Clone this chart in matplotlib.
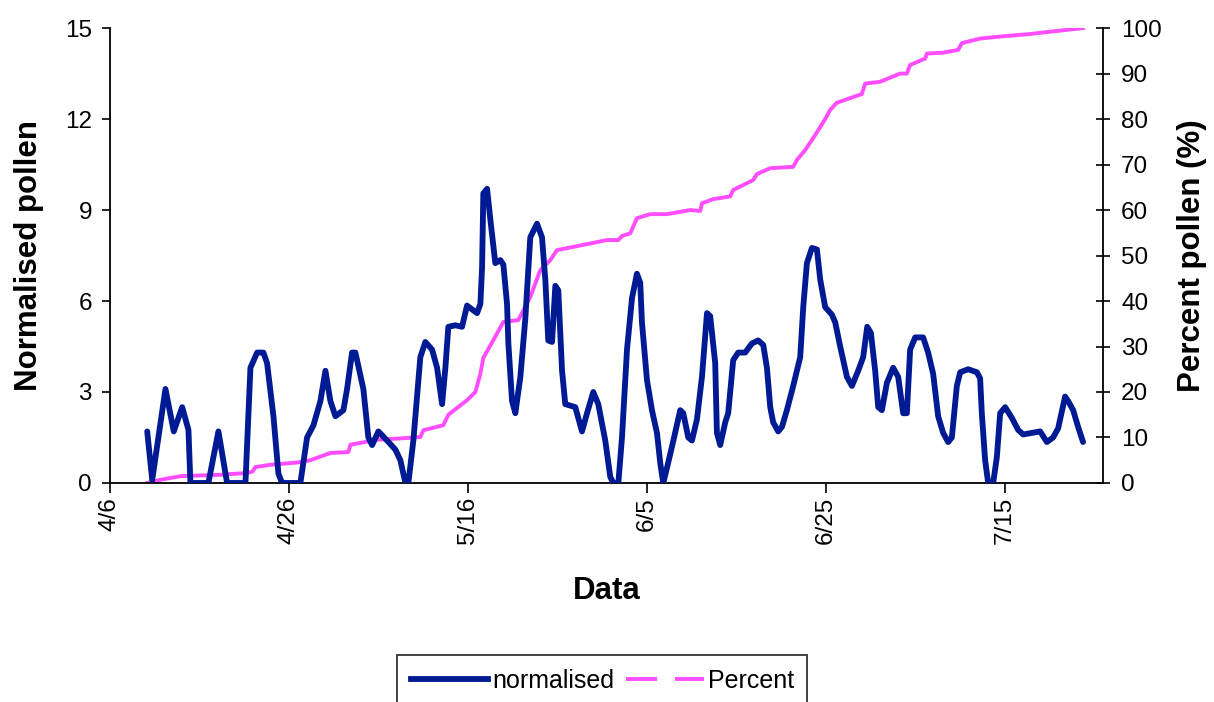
import matplotlib
matplotlib.use("Agg")
import matplotlib.pyplot as plt
import matplotlib.dates as mdates
from matplotlib.lines import Line2D
import pandas as pd

plt.rcParams['font.family'] = ['Liberation Sans', 'DejaVu Sans']

start = pd.Timestamp('2008-04-06')

# normalised pollen, days after 4/6
norm_days = [4.16, 4.72, 6.20, 7.13, 8.07, 8.77, 8.99, 11.0, 12.12, 13.09, 15.14, 15.70,
             16.45, 17.15, 17.56, 18.27, 18.83, 19.24, 21.28, 22.03, 22.74, 23.52, 24.08,
             24.64, 25.2, 26.09, 26.5, 27.06, 27.43, 28.32, 28.88, 29.3, 30.0, 30.97, 31.9,
             32.46, 33.02, 33.35, 33.91, 34.69, 35.25, 36.0, 36.56, 37.12, 37.49, 37.82,
             38.6, 39.35, 39.91, 41.03, 41.4, 41.59, 41.73, 42.15, 42.51, 43.07, 43.63,
             43.97, 44.38, 44.53, 44.94, 45.31, 45.87, 46.42, 46.98, 47.73, 48.29, 48.66,
             48.99, 49.41, 49.78, 50.11, 50.53, 50.89, 52.01, 52.76, 53.32, 54.02, 54.58,
             55.36, 55.92, 56.26, 56.82, 57.23, 57.79, 58.35, 58.9, 59.27, 59.46, 60.02,
             60.58, 61.14, 61.51, 61.84, 62.26, 62.82, 63.74, 64.08, 64.64, 65.05, 65.61,
             66.17, 66.73, 67.09, 67.65, 67.84, 68.21, 68.77, 69.1, 69.66, 70.22, 71.0,
             71.75, 72.46, 73.02, 73.43, 73.8, 74.13, 74.69, 75.11, 75.66, 76.37, 77.15,
             77.49, 77.9, 78.46, 79.02, 79.39, 79.94, 80.69, 81.06, 81.62, 82.37, 82.93,
             83.63, 84.19, 84.64, 85.05, 85.53, 85.87, 86.28, 86.84, 87.54, 88.1, 88.66,
             89.07, 89.44, 90.0, 90.89, 91.45, 92.01, 92.57, 93.13, 93.69, 94.1, 94.66,
             95.03, 95.92, 96.9, 97.26, 97.45, 97.82, 98.16, 98.72, 99.13, 99.5, 100.06,
             100.8, 101.51, 102.07, 103.97, 104.72, 105.42, 105.98, 106.76, 107.1, 107.66,
             108.21, 108.77]
normalised = [1.7, 0.1, 3.1, 1.7, 2.5, 1.75, 0, 0, 1.7, 0, 0, 3.8,
              4.3, 4.3, 3.95, 2.2, 0.3, 0, 0, 1.5, 1.9, 2.7, 3.7,
              2.7, 2.2, 2.4, 3.1, 4.3, 4.3, 3.1, 1.5, 1.25, 1.7, 1.4, 1.1,
              0.75, 0, 0, 1.4, 4.15, 4.65, 4.4, 3.8, 2.6, 3.8, 5.15,
              5.2, 5.15, 5.85, 5.6, 5.9, 7.1, 9.55, 9.7, 8.7, 7.25, 7.35,
              7.2, 5.9, 4.6, 2.7, 2.3, 3.5, 5.4, 8.1, 8.55, 8.1, 6.7,
              4.7, 4.65, 6.5, 6.35, 3.7, 2.6, 2.5, 1.7, 2.3, 3.0, 2.6,
              1.4, 0.2, 0, 0, 1.5, 4.4, 6.1, 6.9, 6.6, 5.3, 3.4,
              2.4, 1.65, 0.65, 0, 0.5, 1.2, 2.4, 2.3, 1.5, 1.4, 2.1,
              3.5, 5.6, 5.5, 3.95, 1.65, 1.25, 2.0, 2.3, 4.05, 4.3, 4.3,
              4.6, 4.7, 4.55, 3.8, 2.5, 2.0, 1.7, 1.85, 2.4, 3.2, 4.15,
              5.8, 7.25, 7.75, 7.7, 6.7, 5.8, 5.55, 5.3, 4.5, 3.5, 3.2,
              3.7, 4.15, 5.15, 4.95, 3.7, 2.5, 2.4, 3.3, 3.8, 3.5, 2.3,
              2.3, 4.4, 4.8, 4.8, 4.3, 3.6, 2.2, 1.65, 1.35, 1.5, 3.2,
              3.65, 3.75, 3.65, 3.45, 2.3, 0.75, 0, 0, 0.85, 2.3, 2.5,
              2.15, 1.75, 1.6, 1.7, 1.35, 1.5, 1.8, 2.85, 2.7, 2.4,
              1.85, 1.35]

# cumulative percent, days after 4/6
pct_days = [4.16, 5.64, 7.88, 12.35, 15.33, 15.92, 16.26, 17.93, 20.92, 22.4, 24.64,
            26.65, 26.87, 29.85, 32.46, 34.69, 35.03, 37.26, 37.82, 39.91, 40.84, 41.4,
            41.73, 42.85, 43.97, 45.64, 46.98, 48.1, 49.22, 49.97, 51.79, 55.55, 56.82,
            57.23, 58.16, 58.9, 60.39, 62.26, 64.86, 65.98, 66.17, 67.43, 69.33, 69.66,
            70.78, 71.9, 72.31, 73.8, 76.37, 76.78, 77.71, 78.83, 79.94, 80.5, 81.25,
            84.04, 84.41, 86.09, 88.32, 89.07, 89.44, 91.12, 91.31, 93.13, 94.8, 95.22,
            97.26, 99.83, 102.85, 105.08, 108.77]
percent = [0, 0.7, 1.5, 1.8, 2.2, 2.5, 3.5, 4.0, 4.5, 5.0, 6.6,
           6.8, 8.4, 9.5, 9.8, 10.1, 11.6, 12.7, 15.0, 18.2, 20.0, 24.0,
           27.5, 31.4, 35.4, 35.8, 40.9, 46.8, 49.0, 51.2, 51.9, 53.4, 53.4,
           54.3, 54.9, 58.2, 59.1, 59.1, 60.0, 59.8, 61.5, 62.4, 63.0, 64.4,
           65.5, 66.6, 67.9, 69.2, 69.5, 71.0, 73.2, 76.5, 80.0, 82.0, 83.6,
           85.5, 87.8, 88.2, 90.0, 90.0, 91.9, 93.3, 94.4, 94.6, 95.2, 96.7,
           97.7, 98.2, 98.7, 99.2, 100.0]

tick_days = [0, 20, 40, 60, 80, 100]

norm_dates = start + pd.to_timedelta(norm_days, unit='D')
pct_dates = start + pd.to_timedelta(pct_days, unit='D')
tick_dates = start + pd.to_timedelta(tick_days, unit='D')

blue = '#001A94'
pink = '#FF4DFF'

fig = plt.figure(figsize=(12.14, 7.02), dpi=100)
ax = fig.add_axes([0.0906, 0.312, 0.818, 0.648])
ax2 = ax.twinx()

ax.plot(norm_dates, normalised, color=blue, linewidth=4.2,
        solid_joinstyle='round', solid_capstyle='round', zorder=3)
ax2.plot(pct_dates, percent, color=pink, linewidth=2.8)
ax.set_zorder(ax2.get_zorder() + 1)
ax.patch.set_visible(False)

ax.set_xlim(start, start + pd.Timedelta(days=111))
ax.set_ylim(0, 15)
ax.set_yticks([0, 3, 6, 9, 12, 15])
ax2.set_ylim(0, 100)
ax2.set_yticks(range(0, 101, 10))

ax.set_xticks(tick_dates)
ax.xaxis.set_major_formatter(mdates.DateFormatter('%-m/%-d'))
for lbl in ax.get_xticklabels():
    lbl.set_rotation(90)

ax.tick_params(axis='y', direction='out', length=6, width=1.2, labelsize=17.5, pad=7)
ax.tick_params(axis='x', direction='out', length=7, width=1.2, labelsize=17.5, pad=3)
ax2.tick_params(axis='y', direction='inout', length=10, width=1.2, labelsize=17.5, pad=8)

for a in (ax, ax2):
    a.spines['top'].set_visible(False)
    for s in ('left', 'right', 'bottom'):
        a.spines[s].set_linewidth(1.3)
ax.spines['right'].set_visible(False)
ax2.spines['left'].set_visible(False)
ax2.spines['bottom'].set_visible(False)

ax.set_xlabel('Data', fontsize=22.5, fontweight='bold')
ax.set_ylabel('Normalised pollen', fontsize=22.5, fontweight='bold')
ax2.set_ylabel('Percent pollen (%)', fontsize=22.5, fontweight='bold', rotation=90)
ax.xaxis.set_label_coords(0.5, -0.205)
ax.yaxis.set_label_coords(-0.066, 0.5)
ax2.yaxis.set_label_coords(1.074, 0.5)

handles = [Line2D([], [], color=blue, linewidth=4.2),
           Line2D([], [], color=pink, linewidth=2.8, linestyle=(0, (8, 4.6)))]
leg = fig.legend(handles, ['normalised', 'Percent'], loc='upper center',
                 bbox_to_anchor=(0.496, 0.067), ncol=2, fontsize=18,
                 frameon=True, fancybox=False, edgecolor='black',
                 handlelength=3.1, handletextpad=0.15, columnspacing=0.5,
                 borderpad=0.55, borderaxespad=0)
leg.get_frame().set_linewidth(1.3)

plt.savefig('out.png', dpi=100)
